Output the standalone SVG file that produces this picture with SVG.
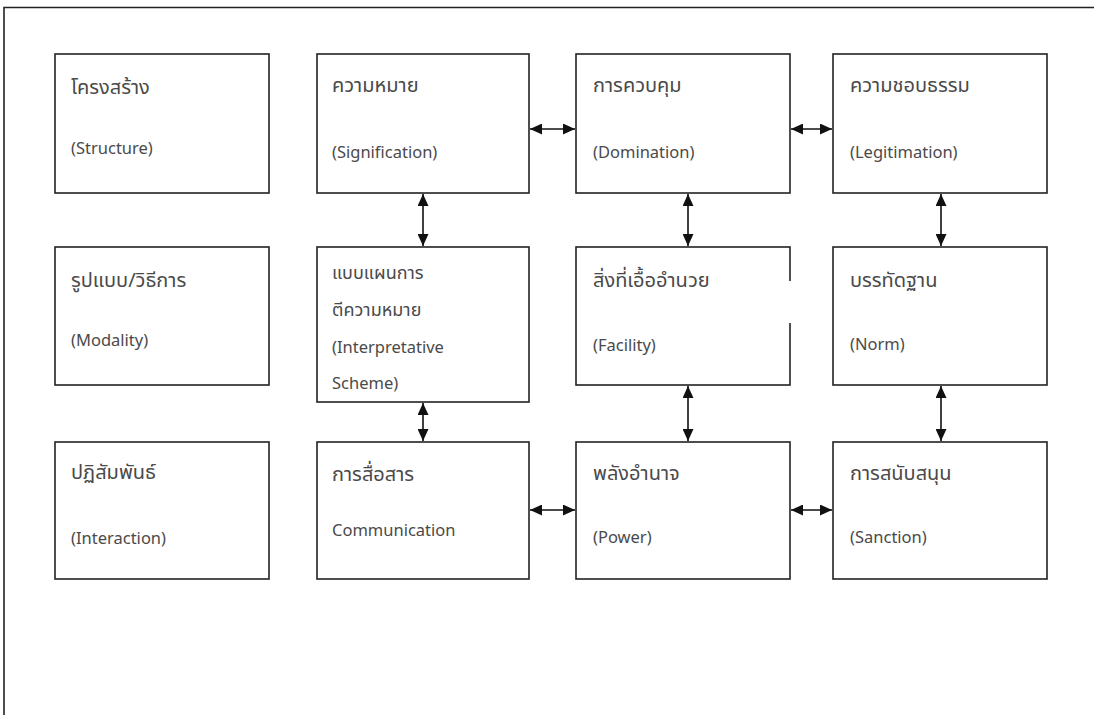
<svg xmlns="http://www.w3.org/2000/svg" width="1094" height="715" viewBox="0 0 1094 715">
<defs>
<style>
.box{fill:#fff;stroke:#222;stroke-width:1.6}
.t{font-family:"Noto Sans Thai","Noto Sans","DejaVu Sans",sans-serif;font-size:20px;fill:#4a4a4a}
.e{font-family:"Noto Sans","DejaVu Sans",sans-serif;font-size:16.5px;fill:#4a4a4a}
.s{font-family:"Noto Sans Thai","Noto Sans","DejaVu Sans",sans-serif;font-size:18px;fill:#4a4a4a}
.c{stroke:#111;stroke-width:1.6;fill:none;marker-start:url(#a);marker-end:url(#a)}
</style>
<marker id="a" viewBox="0 0 10 10" refX="10" refY="5" markerWidth="12" markerHeight="11" markerUnits="userSpaceOnUse" orient="auto-start-reverse" preserveAspectRatio="none">
<path d="M0,0 L10,5 L0,10 z" fill="#111"/>
</marker>
</defs>
<rect width="1094" height="715" fill="#fff"/>
<path d="M4,715 V7.5 H1094" fill="none" stroke="#222" stroke-width="1.6"/>

<g id="structure"><rect class="box" x="55" y="54" width="214" height="139"/><text class="t" x="71" y="94">โครงสร้าง</text><text class="e" x="71" y="154">(Structure)</text></g>
<g id="signification"><rect class="box" x="317" y="54" width="212" height="139"/><text class="t" x="332" y="92">ความหมาย</text><text class="e" x="332" y="158">(Signification)</text></g>
<g id="domination"><rect class="box" x="576" y="54" width="214" height="139"/><text class="t" x="593" y="92">การควบคุม</text><text class="e" x="593" y="158">(Domination)</text></g>
<g id="legitimation"><rect class="box" x="833" y="54" width="214" height="139"/><text class="t" x="850" y="92">ความชอบธรรม</text><text class="e" x="850" y="158">(Legitimation)</text></g>

<g id="modality"><rect class="box" x="55" y="247" width="214" height="138"/><text class="t" x="71" y="287">รูปแบบ/วิธีการ</text><text class="e" x="71" y="346">(Modality)</text></g>
<g id="interpretative"><rect class="box" x="317" y="247" width="212" height="155"/><text class="s" x="332" y="279">แบบแผนการ</text><text class="s" x="332" y="316">ตีความหมาย</text><text class="e" x="332" y="353">(Interpretative</text><text class="e" x="332" y="389">Scheme)</text></g>
<g id="facility"><rect class="box" x="576" y="247" width="214" height="138"/><line x1="790" y1="281" x2="790" y2="323" stroke="#fff" stroke-width="3"/><text class="t" x="593" y="287">สิ่งที่เอื้ออำนวย</text><text class="e" x="593" y="351">(Facility)</text></g>
<g id="norm"><rect class="box" x="833" y="247" width="214" height="138"/><text class="t" x="850" y="287">บรรทัดฐาน</text><text class="e" x="850" y="350">(Norm)</text></g>

<g id="interaction"><rect class="box" x="55" y="442" width="214" height="137"/><text class="t" x="71" y="479">ปฏิสัมพันธ์</text><text class="e" x="71" y="544">(Interaction)</text></g>
<g id="communication"><rect class="box" x="317" y="442" width="212" height="137"/><text class="t" x="332" y="481">การสื่อสาร</text><text class="e" x="332" y="536">Communication</text></g>
<g id="power"><rect class="box" x="576" y="442" width="214" height="137"/><text class="t" x="593" y="480">พลังอำนาจ</text><text class="e" x="593" y="543">(Power)</text></g>
<g id="sanction"><rect class="box" x="833" y="442" width="214" height="137"/><text class="t" x="850" y="480">การสนับสนุน</text><text class="e" x="850" y="543">(Sanction)</text></g>

<g id="connectors">
<line class="c" x1="530" y1="129" x2="575" y2="129"/>
<line class="c" x1="791" y1="129" x2="832" y2="129"/>
<line class="c" x1="530" y1="510" x2="575" y2="510"/>
<line class="c" x1="791" y1="510" x2="832" y2="510"/>
<line class="c" x1="423" y1="194" x2="423" y2="246"/>
<line class="c" x1="688" y1="194" x2="688" y2="246"/>
<line class="c" x1="941" y1="194" x2="941" y2="246"/>
<line class="c" x1="423" y1="403" x2="423" y2="441"/>
<line class="c" x1="688" y1="386" x2="688" y2="441"/>
<line class="c" x1="941" y1="386" x2="941" y2="441"/>
</g>
</svg>
